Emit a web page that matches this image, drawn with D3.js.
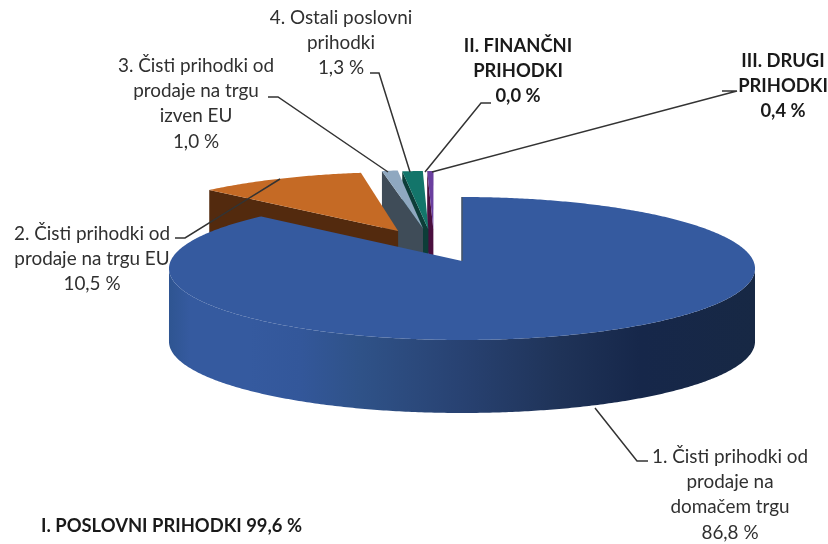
<!DOCTYPE html>
<html><head><meta charset="utf-8">
<script src="https://cdn.jsdelivr.net/npm/d3@7"></script>
<style>html,body{margin:0;background:#fff}svg{display:block;filter:blur(.4px)}text{font-family:Lato,"Open Sans",sans-serif;fill:#303030}</style>
</head><body><svg id="c" width="828" height="544"></svg>
<script>
// ---- data
const categories = ["1. Čisti prihodki od prodaje na domačem trgu","2. Čisti prihodki od prodaje na trgu EU","3. Čisti prihodki od prodaje na trgu izven EU","4. Ostali poslovni prihodki","II. FINANČNI PRIHODKI","III. DRUGI PRIHODKI"];
const values = [86.8, 10.5, 1.0, 1.3, 0.0, 0.4];
const labelLines = [["1. Čisti prihodki od","prodaje na","domačem trgu"],["2. Čisti prihodki od","prodaje na trgu EU"],["3. Čisti prihodki od","prodaje na trgu","izven EU"],["4. Ostali poslovni","prihodki"],["II. FINANČNI","PRIHODKI"],["III. DRUGI","PRIHODKI"]];
const labelBold = [false,false,false,false,true,true];
const totalLabel = "I. POSLOVNI PRIHODKI 99,6 %";
const topColors = ["#355a9f","#c56a25","#8fa8c0","#13756a","#4a8a3a","#6a3f9f"];
const wallColors = ["url(#blueWall)","#532a0e","#3f4c58","#0d3d38","#2a4a20","#4a0f3e"];
// ---- layout
const explode = [0,.47,.47,.47,.47,.47];
const shiftX = [0,-1,-21,-25,-25,-27], shiftY = [0,-2,-1,0,0,0];
const labelCx = [730,92,196,341,518,783], labelCy = [457,234,66,18,46,61], lineGap = 25.2;
const leaders = [[[595,408],[637,461],[648,461]],[[280,179],[185,238],[175,238]],[[388,172],[278,97],[268,97]],[[410,172],[379,73],[370,73]],[[425,172],[481,103],[491,103]],[[432,172],[737,91],[722,91]]];
const cx=462, cy=261, A=291.4, B=70.7, P=.105, H=73;
const fontRegular=18.9, fontBold=18.4;
const wallStops=[[170,"#2f5592"],[190,"#355a9f"],[250,"#355a9f"],[300,"#33579a"],[360,"#2f5288"],[460,"#284272"],[560,"#1f3358"],[640,"#16274a"],[756,"#172844"]];

const svg=d3.select("#c");
const project=(u,v,i)=>{const w=1+P*v;return [cx+A*u/w+shiftX[i], cy-B*v/w+shiftY[i]];};
const arcs=d3.pie().sort(null).value(d=>d)(values);
const mid=a=>(a.startAngle+a.endAngle)/2;
const pt=(a,ang,r)=>{const e=explode[a.index],m=mid(a);
  return project(e*Math.sin(m)+r*Math.sin(ang),e*Math.cos(m)+r*Math.cos(ang),a.index);};
const outer=a=>{const n=Math.max(2,Math.ceil((a.endAngle-a.startAngle)/.01));
  return d3.range(n+1).map(k=>pt(a,a.startAngle+(a.endAngle-a.startAngle)*k/n,1));};
const down=p=>[p[0],p[1]+H];
const line=d3.line();

const x0=170,x1=756;
const g=svg.append("linearGradient").attr("id","blueWall").attr("gradientUnits","userSpaceOnUse").attr("x1",x0).attr("x2",x1).attr("y1",0).attr("y2",0);
wallStops.forEach(s=>g.append("stop").attr("offset",(s[0]-x0)/(x1-x0)).attr("stop-color",s[1]));

const order=arcs.slice().filter(a=>a.value>0).sort((a,b)=>a.index===0?1:b.index===0?-1:b.index-a.index);
const marks=svg.append("g");
order.forEach(a=>{
  const top=outer(a), apex=pt(a,0,0), i=a.index;
  if(i===0){
    const r=d3.greatestIndex(top,p=>p[0]), l=d3.leastIndex(top,p=>p[0]);
    const front=top.slice(r,l+1);
    marks.append("path").attr("d",line(front.concat(front.map(down).reverse()))+"Z").attr("fill",wallColors[i]);
  } else {
    const corner=top[0];
    marks.append("path").attr("d",line([corner,apex,down(apex),down(corner)])+"Z").attr("fill",wallColors[i]);
  }
  marks.append("path").attr("d",line([apex].concat(top))+"Z").attr("fill",topColors[i]);
  if(i===0) marks.append("path").attr("d",line([apex,top[0]])).attr("stroke","#46566a").attr("stroke-width",1.6).attr("fill","none");
});

svg.append("g").selectAll("path").data(leaders).join("path").attr("d",d=>line(d))
  .attr("fill","none").attr("stroke","#333").attr("stroke-width",1.5);

const labels=svg.append("g").attr("text-anchor","middle");
arcs.forEach(a=>{
  const i=a.index, pct=a.value.toFixed(1).replace(".",",")+" %";
  labelLines[i].concat([pct]).forEach((t,k)=>{
    labels.append("text").attr("x",labelCx[i]).attr("y",labelCy[i]+k*lineGap+6)
      .attr("font-size",labelBold[i]?fontBold:fontRegular)
      .attr("font-weight",labelBold[i]?700:400).style("fill",labelBold[i]?"#1a1a1a":"#303030").text(t);
  });
});
svg.append("text").attr("x",41).attr("y",532).attr("font-size",fontBold).attr("font-weight",700).style("fill","#1a1a1a").text(totalLabel);
</script></body></html>
